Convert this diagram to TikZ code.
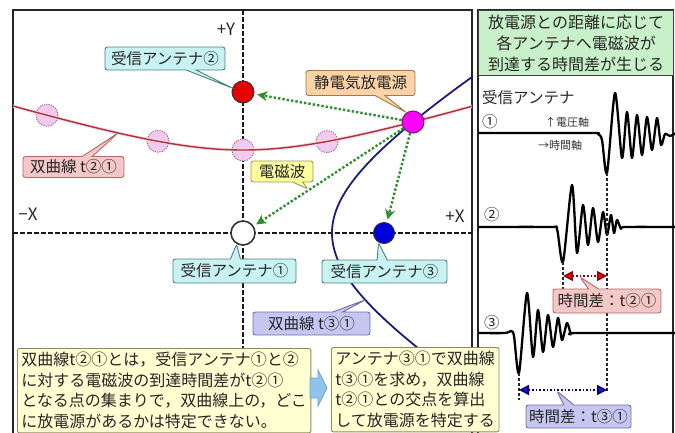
\documentclass[tikz,border=0pt]{standalone}
\usepackage{fontspec}
\setmainfont{Noto Sans CJK JP}
\usetikzlibrary{arrows.meta,shapes.callouts}
\pgfdeclarelayer{bg}
\pgfsetlayers{bg,main}
\definecolor{cyanF}{HTML}{C9F2F2}\definecolor{cyanD}{HTML}{4D8080}
\definecolor{orangeF}{HTML}{FBD3A6}\definecolor{orangeD}{HTML}{A8784A}
\definecolor{pinkF}{HTML}{F5C7C7}\definecolor{pinkD}{HTML}{B06A6A}
\definecolor{yelF}{HTML}{FDFD9E}\definecolor{yelD}{HTML}{9A9A4A}
\definecolor{lavF}{HTML}{C6C6F2}\definecolor{lavD}{HTML}{6E6EA6}
\definecolor{noteF}{HTML}{FFFFD2}\definecolor{noteD}{HTML}{8C8C5A}
\definecolor{headF}{HTML}{C9F1C9}\definecolor{headD}{HTML}{404040}
\definecolor{ghostF}{HTML}{F3C9F0}\definecolor{ghostD}{HTML}{8A5A8A}
\definecolor{hypRed}{HTML}{B03040}\definecolor{hypGlow}{HTML}{F8D8DE}
\definecolor{hypBlue}{HTML}{1C1C80}
\definecolor{emGreen}{HTML}{2F8F2F}
\definecolor{ant2F}{HTML}{E60000}\definecolor{ant3F}{HTML}{0000DD}
\definecolor{srcF}{HTML}{FF00FF}\definecolor{srcD}{HTML}{6A206A}
\definecolor{arrF}{HTML}{8FC3EC}\definecolor{arrD}{HTML}{6FA0D0}
\definecolor{tRed}{HTML}{E01010}\definecolor{tBlue}{HTML}{1A1AD0}
\begin{document}
\begin{tikzpicture}[x=1pt,y=-1pt,
  panel/.style={draw=black!85, line width=1.6pt},
  axisln/.style={draw=black!90, line width=1.8pt, dash pattern=on 4.5pt off 2.5pt},
  ant/.style={circle, draw=black!80, line width=1pt, inner sep=0pt, minimum size=22pt},
  ghost/.style={circle, draw=ghostD, dash pattern=on 1.2pt off 1.2pt, line width=0.8pt, fill=ghostF, inner sep=0pt, minimum size=22pt},
  hypR/.style={draw=hypRed, line width=1.4pt},
  hypRglow/.style={draw=hypGlow, line width=3.2pt},
  hypB/.style={draw=hypBlue, line width=1.8pt},
  emw/.style={draw=emGreen, line width=2.4pt, dash pattern=on 2.4pt off 2pt, -{Stealth[length=10pt,width=10pt,inset=3pt]}, shorten >=3pt},
  calltag/.style={rectangle callout, rounded corners=2.5pt, line width=0.9pt, inner sep=1pt, callout pointer width=10pt, font=\fontsize{15.5}{18}\selectfont, text=black!85},
  notebox/.style={draw=noteD, fill=noteF, line width=0.9pt, rounded corners=2pt, inner sep=4pt, align=left, anchor=north west, font=\fontsize{16}{20.5}\selectfont, text=black!85},
  sig/.style={draw=black, line width=2.3pt, line join=round},
  tdash/.style={draw=black!85, line width=1.3pt, dash pattern=on 3pt off 2pt},
  axtext/.style={font=\fontsize{11}{13}\selectfont, text=black!80, inner sep=0pt},
  bigtext/.style={font=\fontsize{15.5}{18}\selectfont, text=black!85, inner sep=0pt},
  tdiff/.style={line width=1.6pt, dash pattern=on 1.6pt off 2pt},
]
\useasboundingbox (0,0) rectangle (675,432);

% ---------- antennas and source ----------
\node[ant, fill=ant2F] (ant2) at (243,92) {};
\node[ant, fill=white, line width=1.6pt, minimum size=24pt] (ant1) at (243,233) {};
\node[ant, fill=ant3F, minimum size=21pt] (ant3) at (384,233) {};
\node[ant, fill=srcF, draw=srcD] (src) at (413,122) {};

% ---------- free ends ----------
\coordinate (tipR) at (118,133);
\coordinate (tipW) at (308,189);
\coordinate (tipB) at (365,300);
\coordinate (tipT2) at (580,277);
\coordinate (tipT3) at (557,391);
\coordinate (ytop) at (243,10);
\coordinate (ybot) at (243,348);
\coordinate (xlft) at (13,233);
\coordinate (xrgt) at (472,233);

% ---------- axis labels ----------
\node[font=\fontsize{17}{19}\selectfont, text=black!85, inner sep=0pt] (lY) at (226,29) {+Y};
\node[font=\fontsize{17}{19}\selectfont, text=black!85, inner sep=0pt] (lXm) at (28,214) {−X};
\node[font=\fontsize{17}{19}\selectfont, text=black!85, inner sep=0pt] (lXp) at (455,216) {+X};

% ---------- callouts ----------
\node[calltag, fill=cyanF, draw=cyanD, minimum width=120pt, minimum height=23pt, callout absolute pointer={(ant2.160)}] (lab2) at (165,58.5) {受信アンテナ②};
\node[calltag, fill=orangeF, draw=orangeD, minimum width=109pt, minimum height=25pt, callout absolute pointer={(src.125)}] (labS) at (360.5,83) {静電気放電源};
\node[calltag, fill=pinkF, draw=pinkD, minimum width=101pt, minimum height=21pt, callout absolute pointer={(tipR)}] (labR) at (73.5,167) {双曲線 t②①};
\node[calltag, fill=yelF, draw=yelD, minimum width=62pt, minimum height=21pt, callout absolute pointer={(tipW)}] (labW) at (282,171.5) {電磁波};
\node[calltag, fill=cyanF, draw=cyanD, minimum width=123pt, minimum height=24pt, callout absolute pointer={(ant1.-120)}] (lab1) at (234.5,271) {受信アンテナ①};
\node[calltag, fill=cyanF, draw=cyanD, minimum width=125pt, minimum height=23pt, callout absolute pointer={(ant3.-120)}] (lab3) at (384.5,271.5) {受信アンテナ③};
\node[calltag, fill=lavF, draw=lavD, minimum width=117pt, minimum height=23pt, callout absolute pointer={(tipB)}] (labB) at (311.5,323.5) {双曲線 t③①};

% ---------- bottom notes ----------
\node[notebox] (noteL) at (17,348) {双曲線t②①とは，受信アンテナ①と②\\に対する電磁波の到達時間差がt②①\\となる点の集まりで，双曲線上の，どこ\\に放電源があるかは特定できない。};
\node[notebox] (noteR) at (331,347) {アンテナ③①で双曲線\\t③①を求め，双曲線\\t②①との交点を算出\\して放電源を特定する};
\draw[fill=arrF, draw=arrD, line width=0.8pt] (310,378) -- (318,378) -- (318,370) -- (327,388) -- (318,406) -- (318,398) -- (310,398) -- cycle;

% ---------- right panel ----------
\node[draw=headD, fill=headF, line width=1.2pt, minimum width=195pt, minimum height=65pt, anchor=north west, align=center, font=\fontsize{16}{21}\selectfont, text=black!85, inner sep=0pt] (head) at (478,10) {放電源との距離に応じて\\各アンテナへ電磁波が\\到達する時間差が生じる};
\node[bigtext, anchor=west] (rx) at (482,98) {受信アンテナ};
\node[bigtext, anchor=west] (n1) at (482,122) {①};
\node[bigtext, anchor=west] (n2) at (484,215) {②};
\node[bigtext, anchor=west] (n3) at (484,323) {③};
\node[axtext, anchor=west] (vax) at (545,122) {↑電圧軸};
\node[axtext, anchor=west] (tax) at (538,145) {→時間軸};

\node[calltag, fill=pinkF, draw=pinkD, minimum width=108pt, minimum height=24pt, callout absolute pointer={(tipT2)}] (labT2) at (607,301) {時間差：t②①};
\node[calltag, fill=lavF, draw=lavD, minimum width=105pt, minimum height=23pt, callout absolute pointer={(tipT3)}] (labT3) at (578.5,416.5) {時間差：t③①};

\begin{pgfonlayer}{bg}
  % frames
  \draw[panel] (13,10) rectangle (472,445);
  \draw[panel] (478,10) rectangle (673,445);
  % axes
  \draw[axisln] (ytop) -- (ybot);
  \draw[axisln] (xlft) -- (xrgt);
  % ghost positions on hyperbola t21
  \node[ghost] (g1) at (47,115.2) {};
  \node[ghost] (g2) at (158,141.3) {};
  \node[ghost] (g3) at (243,150) {};
  \node[ghost] (g4) at (327,141.6) {};
  % hyperbolas
  \begin{scope}
    \clip (13,10) rectangle (472,445);
    \draw[hypRglow] plot[domain=13:472, samples=90, smooth] (\x, {184.5-sqrt(1190.25+9.4*((\x-243)/10)^2)});
    \draw[hypR] plot[domain=13:472, samples=90, smooth] (\x, {184.5-sqrt(1190.25+9.4*((\x-243)/10)^2)});
    \draw[hypB] plot[domain=-165:118, samples=90, smooth] ({332+10*(sqrt(275.56+2.715*(\x/10)^2)-16.6)}, {233+\x});
  \end{scope}
  % electromagnetic waves
  \draw[emw] (src) -- (ant2);
  \draw[emw] (src) -- (ant1);
  \draw[emw] (src) -- (ant3);
  % waveforms
  \draw[sig] plot[smooth, tension=0.45] coordinates {(478,133) (590,133) (598,134) (602,140) (607,173) (615,93) (622,158) (627,112) (632,158) (637,115) (642,155) (647,117) (652,150) (657,118) (661,145) (665,134) (670,136) (676,133)};
  \draw[sig] plot[smooth, tension=0.45] coordinates {(478,227) (550,227) (557,229) (563,262) (572,185) (577,253) (583,205) (588,245) (593,208) (598,242) (603,212) (607,235) (611,215) (614,233) (617,220) (621,229) (625,227) (676,227)};
  \draw[sig] plot[smooth, tension=0.45] coordinates {(478,333) (505,333) (511,331) (514,336) (519,373) (527,293) (533,357) (538,310) (543,352) (548,315) (553,347) (558,318) (562,340) (567,323) (571,334) (576,333) (676,333)};
  % time markers
  \coordinate (m1) at (607,173);
  \coordinate (m1b) at (607,391);
  \coordinate (m2) at (563,262);
  \coordinate (m2b) at (563,292);
  \coordinate (m3) at (519,373);
  \coordinate (m3b) at (519,400);
  \draw[tdash] (m1) -- (m1b);
  \draw[tdash] (m2) -- (m2b);
  \draw[tdash] (m3) -- (m3b);
  \coordinate (a2l) at (563,276);
  \coordinate (a2r) at (607,276);
  \coordinate (a3l) at (519,390);
  \coordinate (a3r) at (607,390);
  \draw[tdiff, draw=red!60!black, {Triangle[length=10pt,width=10pt,fill=tRed]}-{Triangle[length=10pt,width=10pt,fill=tRed]}] (a2l) -- (a2r);
  \draw[tdiff, draw=blue!50!black, {Triangle[length=10pt,width=10pt,fill=tBlue]}-{Triangle[length=10pt,width=10pt,fill=tBlue]}] (a3l) -- (a3r);
\end{pgfonlayer}
\end{tikzpicture}
\end{document}
